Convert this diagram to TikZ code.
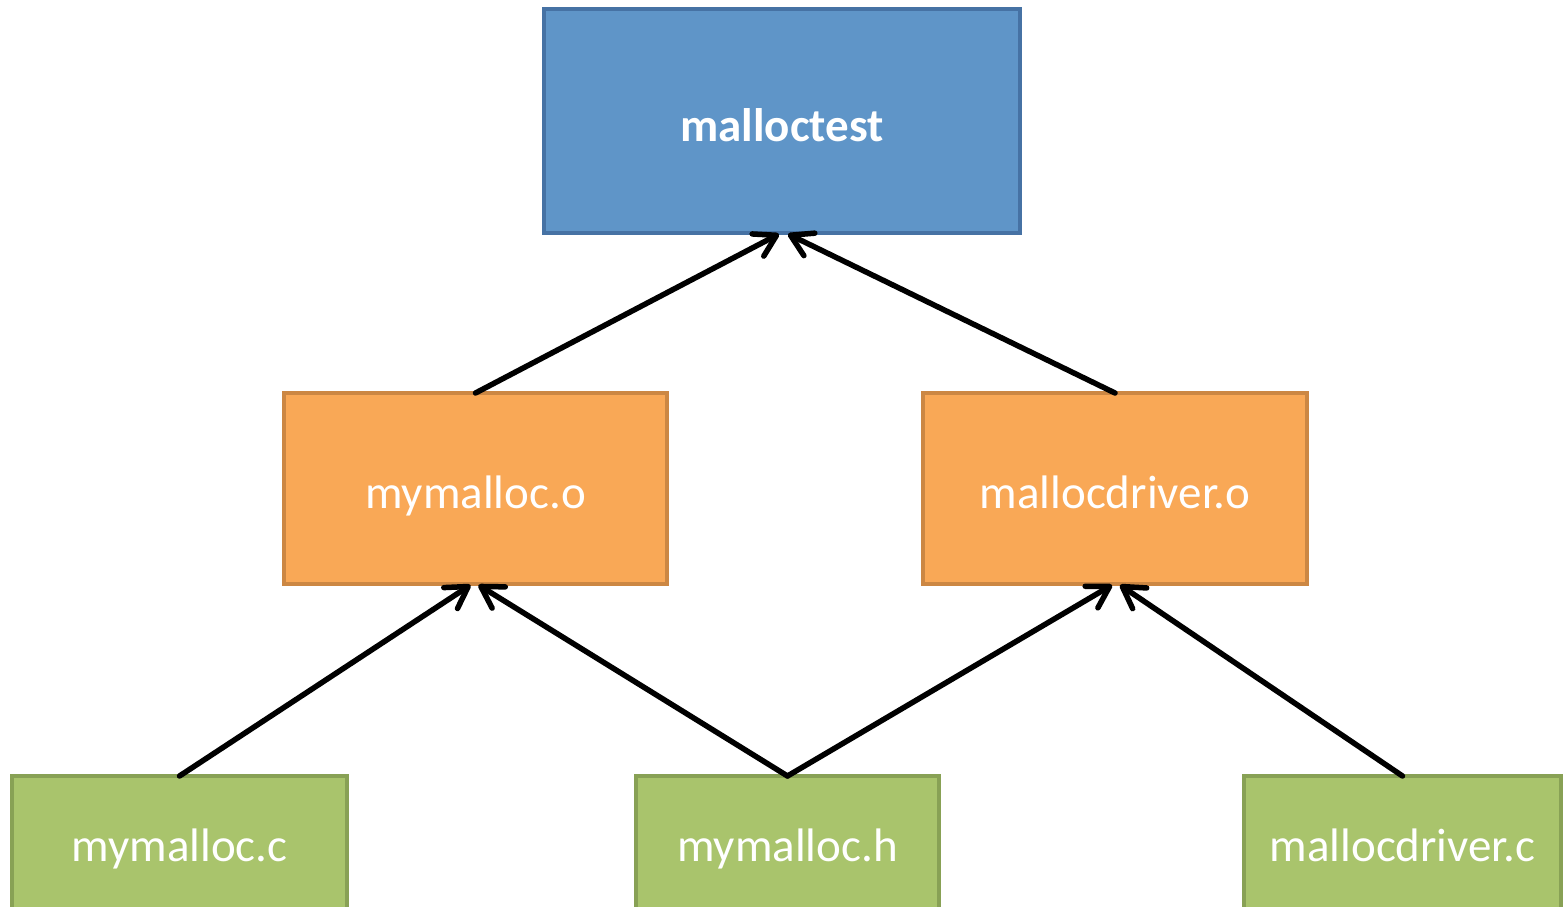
\documentclass[tikz,border=0pt]{standalone}
\usepackage{fontspec}
\setmainfont{Carlito}
\usetikzlibrary{arrows.meta,calc}
\definecolor{blueFill}{HTML}{5F95C8}
\definecolor{blueLine}{HTML}{4672A4}
\definecolor{orangeFill}{HTML}{F9A856}
\definecolor{orangeLine}{HTML}{CC8743}
\definecolor{greenFill}{HTML}{A9C46C}
\definecolor{greenLine}{HTML}{88A155}
\tikzset{
  box/.style={draw, line width=4.5pt, rectangle, inner sep=0pt, outer sep=0pt,
              text=white, font=\fontsize{47}{56}\selectfont,
              text height=40pt, text depth=0pt},
  target/.style={box, fill=blueFill, draw=blueLine, font=\fontsize{47}{56}\selectfont\bfseries},
  object/.style={box, fill=orangeFill, draw=orangeLine},
  source/.style={box, fill=greenFill, draw=greenLine, text height=35pt, text depth=5pt},
  dep/.style={line width=5.5pt, line cap=round,
              -{Straight Barb[length=21pt,width=25pt,line width=5.5pt,round]}}
}
\begin{document}
\begin{tikzpicture}[x=1pt,y=-1pt]
  \useasboundingbox (0,0) rectangle (1564,906);
  \begin{scope}
    \clip (0,0) rectangle (1564,906);
    % final executable
    \node[target, minimum width=476pt, minimum height=224pt] (mt) at (782,121) {malloctest};
    % object files
    \node[object, minimum width=383pt, minimum height=191pt] (mo) at (475.5,488.5) {mymalloc.o};
    \node[object, minimum width=384pt, minimum height=191pt] (mdo) at (1115,488.5) {mallocdriver.o};
    % source files
    \node[source, minimum width=335pt, minimum height=140pt] (mc) at (179.5,846) {mymalloc.c};
    \node[source, minimum width=303pt, minimum height=140pt] (mh) at (787.5,846) {mymalloc.h};
    \node[source, minimum width=317pt, minimum height=140pt] (mdc) at (1402.5,846) {mallocdriver.c};
    % dependencies
    \draw[dep] (mo.north) -- ($(mt.south)+(-3,1)$);
    \draw[dep] (mdo.north) -- ($(mt.south)+(6,1)$);
    \draw[dep] (mc.north) -- ($(mo.south)+(-5,1)$);
    \draw[dep] (mh.north) -- ($(mo.south)+(3,1)$);
    \draw[dep] (mh.north) -- ($(mdo.south)+(-3,1)$);
    \draw[dep] (mdc.north) -- ($(mdo.south)+(5,1)$);
  \end{scope}
\end{tikzpicture}
\end{document}
